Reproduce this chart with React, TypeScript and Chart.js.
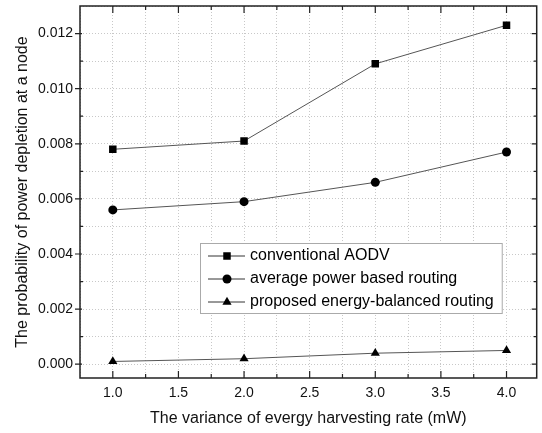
import React, { useEffect, useRef } from "react";
import { Chart, registerables } from "chart.js";

Chart.register(...registerables);

const xValues = [1.0, 2.0, 3.0, 4.0];
const conventionalAODV = [0.0078, 0.0081, 0.0109, 0.0123];
const averagePowerRouting = [0.0056, 0.0059, 0.0066, 0.0077];
const proposedBalanced = [0.0001, 0.0002, 0.0004, 0.0005];

const seriesNames = [
  "conventional AODV",
  "average power based routing",
  "proposed energy-balanced routing",
];
const seriesMarkers = ["rect", "circle", "triangle"];
const markerRadii = [5.3, 4.5, 5.3];

const xTitle = "The variance of evergy harvesting rate (mW)";
const yTitle = "The probability of power depletion at a node";

const FONT = "'Liberation Sans', Arial, sans-serif";

const isMajorX = (v: number) => Math.abs(v * 2 - Math.round(v * 2)) < 1e-6;
const isMajorY = (v: number) => {
  const k = v * 1000;
  return Math.abs(k - Math.round(k)) < 1e-6 && Math.round(k) % 2 === 0;
};

const framePlugin = {
  id: "frameTicks",
  afterDraw(chart: any) {
    const { ctx, chartArea: a, scales } = chart;
    const xs = scales.x;
    const ys = scales.y;
    ctx.save();
    ctx.strokeStyle = "#222";
    ctx.lineWidth = 1.5;
    ctx.beginPath();
    ctx.rect(a.left, a.top, a.right - a.left, a.bottom - a.top);
    ctx.stroke();
    ctx.lineWidth = 1.2;
    ctx.beginPath();
    xs.ticks.forEach((t: any) => {
      const v = t.value;
      if (v < xs.min + 1e-9 || v > xs.max - 1e-9) return;
      const px = xs.getPixelForValue(v);
      const len = isMajorX(v) ? 7 : 4;
      ctx.moveTo(px, a.bottom);
      ctx.lineTo(px, a.bottom - len);
      ctx.moveTo(px, a.top);
      ctx.lineTo(px, a.top + len);
    });
    ys.ticks.forEach((t: any) => {
      const v = t.value;
      if (v < ys.min + 1e-9 || v > ys.max - 1e-9) return;
      const py = ys.getPixelForValue(v);
      const major = isMajorY(v);
      if (major) {
        ctx.moveTo(a.left - 5, py);
        ctx.lineTo(a.left + 2, py);
        ctx.moveTo(a.right - 5, py);
        ctx.lineTo(a.right, py);
      } else {
        ctx.moveTo(a.left, py);
        ctx.lineTo(a.left + 3, py);
        ctx.moveTo(a.right - 3, py);
        ctx.lineTo(a.right, py);
      }
    });
    ctx.stroke();

    // legend
    const left = 200;
    const top = 243;
    const rowH = 23;
    ctx.font = `16px ${FONT}`;
    let maxW = 0;
    seriesNames.forEach((n) => {
      maxW = Math.max(maxW, ctx.measureText(n).width);
    });
    const textX = left + 50;
    const boxW = textX - left + maxW + 8;
    const boxH = rowH * 3 + 1;
    ctx.fillStyle = "#fff";
    ctx.fillRect(left, top, boxW, boxH);
    ctx.strokeStyle = "#aaa";
    ctx.lineWidth = 1;
    ctx.strokeRect(left + 0.5, top + 0.5, boxW, boxH);
    seriesNames.forEach((n, i) => {
      const cy = top + 13 + i * rowH;
      ctx.strokeStyle = "#333";
      ctx.lineWidth = 1;
      ctx.beginPath();
      ctx.moveTo(left + 8, cy);
      ctx.lineTo(left + 45, cy);
      ctx.stroke();
      ctx.fillStyle = "#000";
      const mx = left + 27;
      const r = markerRadii[i];
      ctx.beginPath();
      if (seriesMarkers[i] === "rect") {
        const h = r * Math.SQRT1_2;
        ctx.rect(mx - h, cy - h, h * 2, h * 2);
      } else if (seriesMarkers[i] === "circle") {
        ctx.arc(mx, cy, r, 0, Math.PI * 2);
      } else {
        const s = r * Math.sqrt(3) / 2;
        ctx.moveTo(mx, cy - r);
        ctx.lineTo(mx + s, cy + r / 2);
        ctx.lineTo(mx - s, cy + r / 2);
        ctx.closePath();
      }
      ctx.fill();
      ctx.fillStyle = "#000";
      ctx.textBaseline = "middle";
      ctx.textAlign = "left";
      ctx.fillText(n, textX, cy);
    });
    ctx.restore();
  },
};

export default function App() {
  const ref = useRef<HTMLCanvasElement | null>(null);
  useEffect(() => {
    if (!ref.current) return;
    const mk = (vals: number[]) => xValues.map((x, i) => ({ x, y: vals[i] }));
    const allSeries = [conventionalAODV, averagePowerRouting, proposedBalanced];
    const chart = new Chart(ref.current, {
      type: "line",
      data: {
        datasets: allSeries.map((vals, i) => ({
          label: seriesNames[i],
          data: mk(vals),
          borderColor: "#555",
          borderWidth: 1,
          backgroundColor: "#000",
          pointBackgroundColor: "#000",
          pointBorderColor: "#000",
          pointBorderWidth: 0,
          pointStyle: seriesMarkers[i] as any,
          pointRadius: markerRadii[i],
          tension: 0,
          fill: false,
        })),
      },
      options: {
        responsive: false,
        animation: false,
        devicePixelRatio: 1,
        layout: { padding: { left: 0, right: 1, top: 6, bottom: 0 } },
        plugins: {
          legend: { display: false },
          tooltip: { enabled: false },
        },
        scales: {
          x: {
            type: "linear",
            min: 0.75,
            max: 4.23,
            afterFit: (s: any) => {
              s.height = 55;
              s.paddingLeft = 0;
              s.paddingRight = 0;
            },
            grid: {
              color: "#c8c8c8",
              drawTicks: false,
            },
            border: { display: false, dash: [1, 2] },
            ticks: {
              stepSize: 0.25,
              autoSkip: false,
              maxRotation: 0,
              includeBounds: false,
              padding: 7,
              color: "#111",
              font: { family: FONT, size: 14 },
              callback: (v: any) => (isMajorX(Number(v)) ? Number(v).toFixed(1) : ""),
            },
            title: {
              display: true,
              text: xTitle,
              color: "#111",
              font: { family: FONT, size: 16 },
              padding: { top: 0, bottom: 5 },
            },
          },
          y: {
            type: "linear",
            min: -0.0005,
            max: 0.013,
            afterFit: (s: any) => {
              s.width = 80;
              s.paddingTop = 0;
              s.paddingBottom = 0;
            },
            grid: {
              color: "#c8c8c8",
              drawTicks: false,
            },
            border: { display: false, dash: [1, 2] },
            ticks: {
              stepSize: 0.001,
              autoSkip: false,
              includeBounds: false,
              padding: 7,
              color: "#111",
              font: { family: FONT, size: 14 },
              callback: (v: any) => (isMajorY(Number(v)) ? Number(v).toFixed(3) : ""),
            },
            title: {
              display: true,
              text: yTitle,
              color: "#111",
              font: { family: FONT, size: 16 },
              padding: { top: 13, bottom: 0 },
            },
          },
        },
      },
      plugins: [framePlugin],
    });
    return () => chart.destroy();
  }, []);
  return (
    <div style={{ position: "fixed", left: 0, top: 0, width: 542, height: 433, background: "#fff" }}>
      <canvas ref={ref} width={542} height={433} style={{ display: "block" }} />
    </div>
  );
}
